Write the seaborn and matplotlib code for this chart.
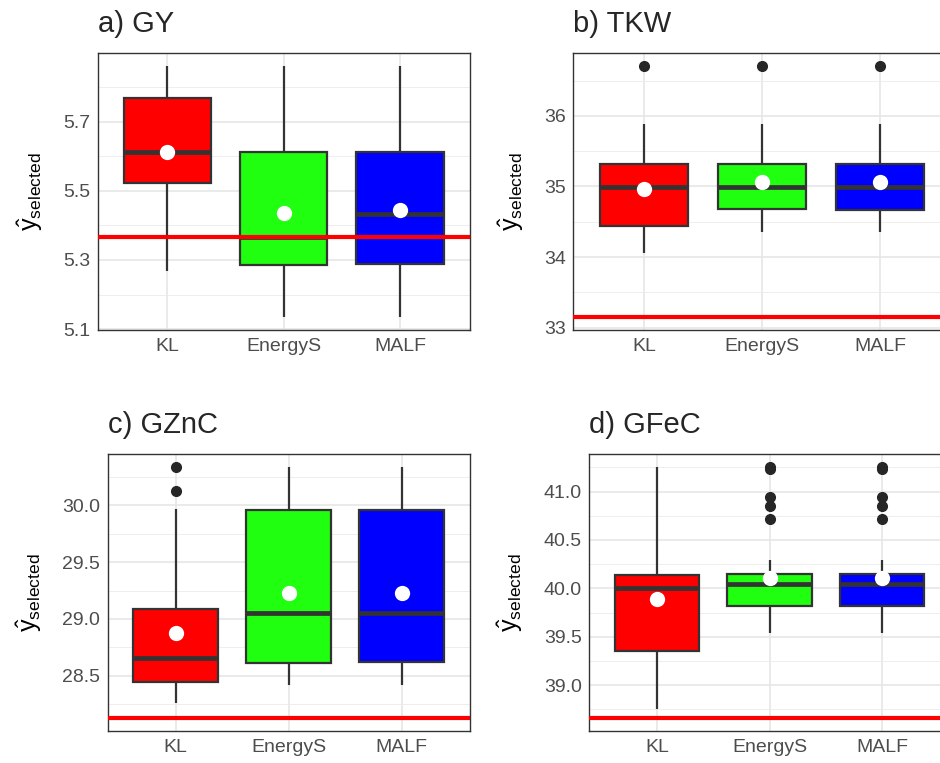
import pandas as pd
import seaborn as sns
import matplotlib.pyplot as plt
from matplotlib.ticker import MultipleLocator, FormatStrFormatter

methods = ["KL", "EnergyS", "MALF"]
palette = {"KL": "#FF0000", "EnergyS": "#1FFF0F", "MALF": "#0000FF"}

# box summaries, order: KL, EnergyS, MALF
gy_low = [5.268, 5.134, 5.134]
gy_q1 = [5.523, 5.285, 5.287]
gy_med = [5.613, 5.367, 5.433]
gy_q3 = [5.768, 5.611, 5.611]
gy_high = [5.861, 5.861, 5.861]
gy_out = [[], [], []]
gy_mean = [5.611, 5.437, 5.444]
gy_ref = 5.367
gy_ticks = [5.1, 5.3, 5.5, 5.7]

tkw_low = [34.058, 34.358, 34.358]
tkw_q1 = [34.439, 34.678, 34.669]
tkw_med = [34.99, 34.99, 34.99]
tkw_q3 = [35.323, 35.32, 35.32]
tkw_high = [35.891, 35.891, 35.891]
tkw_out = [[36.709], [36.709], [36.709]]
tkw_mean = [34.965, 35.07, 35.07]
tkw_ref = 33.145
tkw_ticks = [33, 34, 35, 36]

gznc_low = [28.26, 28.415, 28.415]
gznc_q1 = [28.441, 28.611, 28.617]
gznc_med = [28.652, 29.055, 29.055]
gznc_q3 = [29.088, 29.956, 29.956]
gznc_high = [29.971, 30.336, 30.336]
gznc_out = [[30.129, 30.339], [], []]
gznc_mean = [28.88, 29.231, 29.231]
gznc_ref = 28.124
gznc_ticks = [28.5, 29.0, 29.5, 30.0]

gfec_low = [38.75, 39.541, 39.541]
gfec_q1 = [39.357, 39.815, 39.815]
gfec_med = [40.0, 40.04, 40.04]
gfec_q3 = [40.137, 40.15, 40.15]
gfec_high = [41.25, 40.291, 40.291]
gfec_out = [[], [40.715, 40.856, 40.949, 41.238, 41.256],
            [40.715, 40.856, 40.949, 41.238, 41.256]]
gfec_mean = [39.894, 40.103, 40.103]
gfec_ref = 38.655
gfec_ticks = [39.0, 39.5, 40.0, 40.5, 41.0]


def expand(low, q1, med, q3, high, out):
    # sample whose type-7 quartiles hit q1/med/q3 exactly
    k = len(out) + 1
    return [low] + [q1] * k + [med] * k + [q3] * k + [high] + list(out)


def draw(ax, title, low, q1, med, q3, high, out, mean, ref, ticks, fmt):
    rows = []
    for i, m in enumerate(methods):
        for v in expand(low[i], q1[i], med[i], q3[i], high[i], out[i]):
            rows.append((m, v))
    df = pd.DataFrame(rows, columns=["method", "value"])

    sns.boxplot(data=df, x="method", y="value", hue="method", order=methods,
                palette=palette, width=0.75, linecolor="#333333", linewidth=1.6,
                showcaps=False, legend=False, saturation=1,
                flierprops=dict(marker="o", markerfacecolor="#262626",
                                markeredgecolor="#262626", markersize=7),
                medianprops=dict(linewidth=3.4, solid_capstyle="butt"),
                ax=ax)
    ax.axhline(ref, color="#FF0000", lw=3, zorder=4)
    sns.stripplot(x=methods, y=mean, order=methods, jitter=False, color="white",
                  size=11, linewidth=0, zorder=5, ax=ax)

    vals = list(df["value"]) + [ref]
    lo, hi = min(vals), max(vals)
    pad = 0.05 * (hi - lo)
    ax.set_ylim(lo - pad, hi + pad)
    ax.set_xlim(-0.6, 2.6)

    ax.set_yticks(ticks)
    ax.yaxis.set_minor_locator(MultipleLocator((ticks[1] - ticks[0]) / 2))
    ax.yaxis.set_major_formatter(FormatStrFormatter(fmt))
    ax.set_axisbelow(True)
    ax.grid(which="major", color="#E6E6E6", lw=1.2)
    ax.grid(which="minor", axis="y", color="#EBEBEB", lw=0.6)
    ax.tick_params(which="major", length=3.5, width=1, color="#333333",
                   labelsize=14, labelcolor="#4D4D4D", pad=2)
    ax.tick_params(which="minor", length=0)
    for s in ax.spines.values():
        s.set_visible(True)
        s.set_color("#333333")
        s.set_linewidth(1)

    ax.set_xlabel("")
    ax.set_ylabel(r"$\hat{\mathrm{y}}_{\mathrm{selected}}$", fontsize=18,
                  color="black", labelpad=13)
    ax.set_title(title, loc="left", fontsize=21, pad=15)


def px_box(left, top, width, height):
    return [left / 940, 1 - (top + height) / 763, width / 940, height / 763]


sns.set_theme(style="whitegrid")
plt.rcParams["font.family"] = ["Liberation Sans", "DejaVu Sans"]
plt.rcParams["mathtext.fontset"] = "custom"
plt.rcParams["mathtext.rm"] = "Liberation Sans"
plt.rcParams["mathtext.it"] = "Liberation Sans:italic"

fig = plt.figure(figsize=(9.4, 7.63), dpi=100)
fig.patch.set_facecolor("white")

ax_a = fig.add_axes(px_box(97.7, 53.3, 372, 276.7))
ax_b = fig.add_axes(px_box(573.3, 53.3, 377.6, 276.7))
ax_c = fig.add_axes(px_box(108, 454.3, 361.5, 276.7))
ax_d = fig.add_axes(px_box(589.3, 454.3, 360.5, 276.7))

draw(ax_a, "a) GY", gy_low, gy_q1, gy_med, gy_q3, gy_high, gy_out,
     gy_mean, gy_ref, gy_ticks, "%.1f")
draw(ax_b, "b) TKW", tkw_low, tkw_q1, tkw_med, tkw_q3, tkw_high, tkw_out,
     tkw_mean, tkw_ref, tkw_ticks, "%d")
draw(ax_c, "c) GZnC", gznc_low, gznc_q1, gznc_med, gznc_q3, gznc_high, gznc_out,
     gznc_mean, gznc_ref, gznc_ticks, "%.1f")
draw(ax_d, "d) GFeC", gfec_low, gfec_q1, gfec_med, gfec_q3, gfec_high, gfec_out,
     gfec_mean, gfec_ref, gfec_ticks, "%.1f")

fig.savefig("out.png", dpi=100, facecolor="white")
